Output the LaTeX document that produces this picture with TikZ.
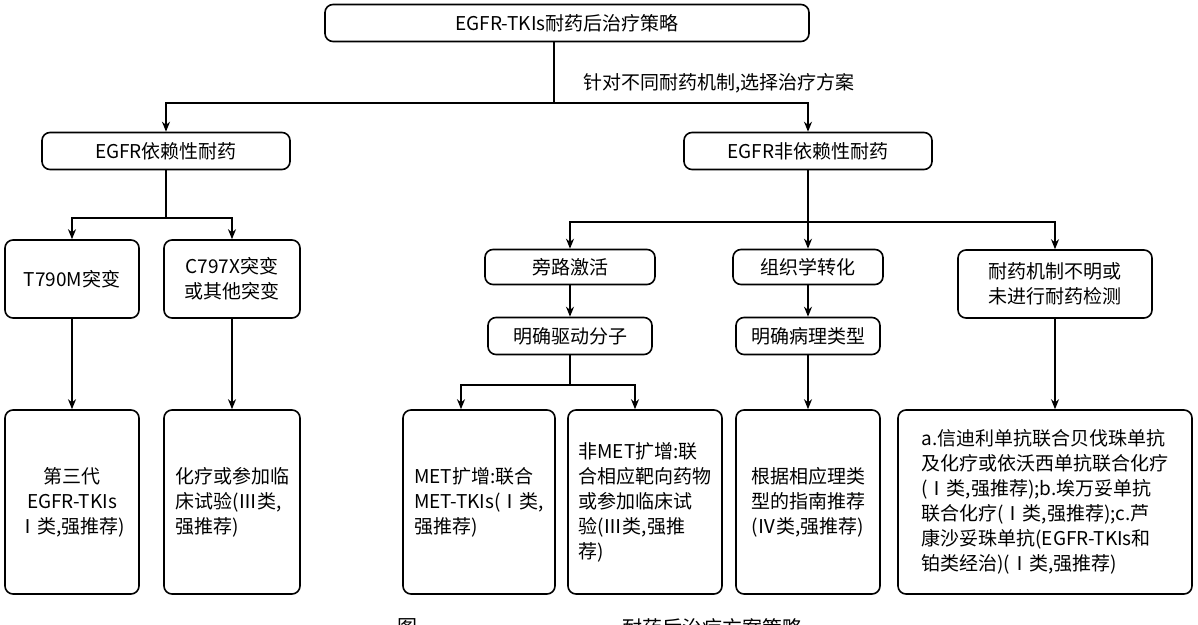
\documentclass[tikz,border=0pt]{standalone}
\usepackage{fontspec}
\setmainfont{Noto Sans CJK SC}
\usetikzlibrary{arrows.meta}
\XeTeXlinebreaklocale "zh"
\tikzset{
  box/.style={draw, rounded corners=4pt, thick, align=center, inner sep=2pt,
    font=\fontsize{9.5}{12.5}\selectfont},
  arr/.style={thick, -{Stealth[length=5pt,width=4pt]}},
  line/.style={thick}
}
\begin{document}
\begin{tikzpicture}[x=0.5pt,y=-0.5pt]
  \useasboundingbox (0,0) rectangle (1198,625);

  % first level
  \node[box, minimum width=242pt, minimum height=18.5pt] (top) at (567,23) {EGFR-TKIs耐药后治疗策略};
  \node[box, minimum width=124pt, minimum height=18.5pt] (dep) at (166,151) {EGFR依赖性耐药};
  \node[box, minimum width=124pt, minimum height=18.5pt] (indep) at (808,151) {EGFR非依赖性耐药};
  \node[anchor=west, font=\fontsize{9.5}{12}\selectfont] (why) at (576,83) {针对不同耐药机制,选择治疗方案};

  % second level
  \node[box, minimum width=67pt, minimum height=39pt] (t790) at (72,279) {T790M突变};
  \node[box, minimum width=68pt, minimum height=39pt] (c797) at (232,279) {C797X突变\\或其他突变};
  \node[box, minimum width=85pt, minimum height=17.5pt] (bypass) at (570,267) {旁路激活};
  \node[box, minimum width=75pt, minimum height=17.5pt] (histo) at (808,267) {组织学转化};
  \node[box, minimum width=97pt, minimum height=34pt] (unknown) at (1055,284) {耐药机制不明或\\未进行耐药检测};
  \node[box, minimum width=82pt, minimum height=18.5pt] (driver) at (570,336) {明确驱动分子};
  \node[box, minimum width=72pt, minimum height=18.5pt] (patho) at (808,336) {明确病理类型};

  % bottom level
  \node[box, minimum width=67pt, minimum height=92pt] (third) at (72,502) {第三代\\EGFR-TKIs\\Ⅰ类,强推荐)};
  \node[box, minimum width=68pt, minimum height=92pt, align=left] (chemo) at (232,502) {化疗或参加临\\床试验(Ⅲ类,\\强推荐)};
  \node[box, minimum width=76pt, minimum height=92pt, align=left] (met) at (479,502) {MET扩增:联合\\MET-TKIs(Ⅰ类,\\强推荐)};
  \node[box, minimum width=77pt, minimum height=92pt, align=left] (nonmet) at (645,502) {非MET扩增:联\\合相应靶向药物\\或参加临床试\\验(Ⅲ类,强推\\荐)};
  \node[box, minimum width=72pt, minimum height=92pt, align=left] (guide) at (808,502) {根据相应理类\\型的指南推荐\\(Ⅳ类,强推荐)};
  \node[box, minimum width=147pt, minimum height=92pt, align=left] (abc) at (1045,502) {a.信迪利单抗联合贝伐珠单抗\\及化疗或依沃西单抗联合化疗\\(Ⅰ类,强推荐);b.埃万妥单抗\\联合化疗(Ⅰ类,强推荐);c.芦\\康沙妥珠单抗(EGFR-TKIs和\\铂类经治)(Ⅰ类,强推荐)};

  % caption, cut by the page edge
  \node[anchor=north west, font=\fontsize{10}{12}\selectfont] (capA) at (390,612) {图};
  \node[anchor=north west, font=\fontsize{10}{12}\selectfont] (capB) at (615,612) {耐药后治疗方案策略};

  % connectors
  \coordinate (s1) at (554,103);
  \draw[line] (top.south -| s1) -- (s1);
  \draw[arr] (s1) -| (dep.north);
  \draw[arr] (s1) -| (indep.north);

  \coordinate (s2) at (166,218);
  \draw[line] (dep.south) -- (s2);
  \draw[arr] (s2) -| (t790.north);
  \draw[arr] (s2) -| (c797.north);

  \coordinate (s3) at (808,222);
  \draw[line] (indep.south) -- (s3);
  \draw[arr] (s3) -| (bypass.north);
  \draw[arr] (s3) -- (histo.north);
  \draw[arr] (s3) -| (unknown.north);

  \draw[arr] (bypass) -- (driver);
  \draw[arr] (histo) -- (patho);

  \coordinate (s4) at (570,385);
  \draw[line] (driver.south) -- (s4);
  \draw[arr] (s4) -| ([xshift=-9]met.north);
  \draw[arr] (s4) -| ([xshift=-5]nonmet.north);

  \draw[arr] (t790) -- (third);
  \draw[arr] (c797) -- (chemo);
  \draw[arr] (patho) -- (guide);
  \draw[arr] (unknown.south) -- (unknown.south |- abc.north);
\end{tikzpicture}
\end{document}
